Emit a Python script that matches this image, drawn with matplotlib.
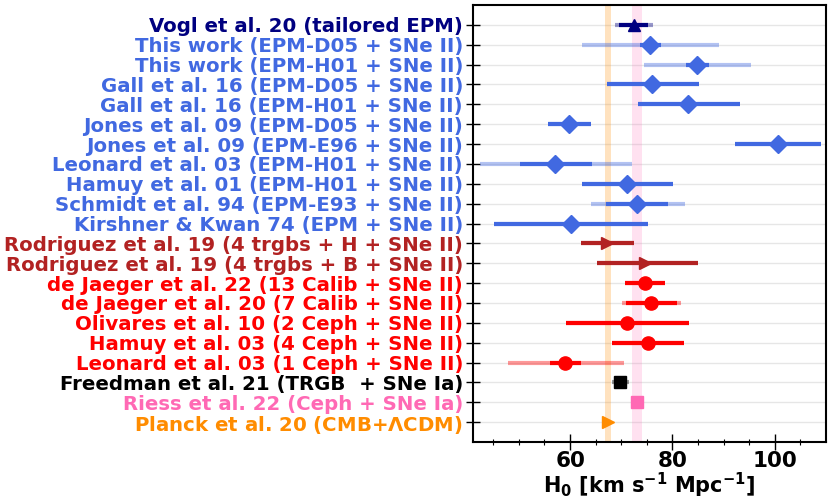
import matplotlib
matplotlib.use("Agg")
import matplotlib.pyplot as plt
import numpy as np

labels = [
    "Vogl et al. 20 (tailored EPM)",
    "This work (EPM-D05 + SNe II)",
    "This work (EPM-H01 + SNe II)",
    "Gall et al. 16 (EPM-D05 + SNe II)",
    "Gall et al. 16 (EPM-H01 + SNe II)",
    "Jones et al. 09 (EPM-D05 + SNe II)",
    "Jones et al. 09 (EPM-E96 + SNe II)",
    "Leonard et al. 03 (EPM-H01 + SNe II)",
    "Hamuy et al. 01 (EPM-H01 + SNe II)",
    "Schmidt et al. 94 (EPM-E93 + SNe II)",
    "Kirshner & Kwan 74 (EPM + SNe II)",
    "Rodriguez et al. 19 (4 trgbs + H + SNe II)",
    "Rodriguez et al. 19 (4 trgbs + B + SNe II)",
    "de Jaeger et al. 22 (13 Calib + SNe II)",
    "de Jaeger et al. 20 (7 Calib + SNe II)",
    "Olivares et al. 10 (2 Ceph + SNe II)",
    "Hamuy et al. 03 (4 Ceph + SNe II)",
    "Leonard et al. 03 (1 Ceph + SNe II)",
    "Freedman et al. 21 (TRGB  + SNe Ia)",
    "Riess et al. 22 (Ceph + SNe Ia)",
    "Planck et al. 20 (CMB+$\\Lambda$CDM)",
]

# H0 value, statistical errors (dark bar), total errors (light bar)
h0 =     [72.4, 75.7, 84.8, 76.1, 83.1, 59.8, 100.6, 57.1, 71.2, 73.1, 60.2,
          67.2, 74.7, 74.6, 75.8, 71.2, 75.2, 59.1, 69.8, 73.04, 67.4]
stat_lo = [2.8, 2.0, 2.2, 8.9, 9.9, 4.2, 8.3, 6.9, 8.9, 6.0, 15.0,
           5.1, 9.5, 3.8, 4.8, 12.0, 7.0, 3.0, 0.0, 0.0, 0.0]
stat_hi = [2.9, 2.1, 2.3, 9.0, 10.0, 4.2, 8.4, 7.1, 8.9, 6.1, 15.0,
           5.3, 10.3, 3.9, 5.1, 12.0, 7.0, 3.1, 0.0, 0.0, 0.0]
tot_lo = [3.7, 13.4, 10.4, 8.9, 9.9, 4.2, 8.3, 14.7, 8.9, 9.1, 15.0,
          5.1, 9.5, 3.8, 5.6, 12.0, 7.0, 11.3, 1.6, 0.0, 0.0]
tot_hi = [3.8, 13.4, 10.5, 9.0, 10.1, 4.2, 8.4, 14.9, 8.9, 9.3, 15.0,
          5.3, 10.3, 3.9, 5.9, 12.0, 7.0, 11.5, 1.8, 0.0, 0.0]

riess = (73.04, 1.04)
planck = (67.4, 0.5)

colors = (["navy"] + ["royalblue"] * 10 + ["firebrick"] * 2 + ["red"] * 5
          + ["black", "hotpink", "darkorange"])
markers = (["^"] + ["D"] * 10 + [">"] * 2 + ["o"] * 5 + ["s", "s", ">"])

plt.rcParams["font.weight"] = "bold"
plt.rcParams["axes.labelweight"] = "bold"

fig = plt.figure(figsize=(8.31, 5.04), dpi=100)
ax = fig.add_axes([0.569, 0.123, 0.425, 0.867])

y = np.arange(len(labels))

ax.axvspan(riess[0] - riess[1], riess[0] + riess[1], color="hotpink", alpha=0.2, lw=0, zorder=1)
ax.axvspan(planck[0] - planck[1], planck[0] + planck[1], color="darkorange", alpha=0.25, lw=0, zorder=1)

for i in range(len(labels)):
    c = colors[i]
    if tot_lo[i] > 0 or tot_hi[i] > 0:
        ax.errorbar(h0[i], y[i], xerr=[[tot_lo[i]], [tot_hi[i]]], fmt="none",
                    ecolor=c, elinewidth=3, alpha=0.4, capsize=0, zorder=2)
    if stat_lo[i] > 0 or stat_hi[i] > 0:
        ax.errorbar(h0[i], y[i], xerr=[[stat_lo[i]], [stat_hi[i]]], fmt="none",
                    ecolor=c, elinewidth=3, capsize=0, zorder=3)
    ms = 9.5 if markers[i] in ("D", "o") else 8.5
    ax.plot(h0[i], y[i], marker=markers[i], color=c, ms=ms, ls="none", zorder=4)

ax.set_yticks(y)
ax.set_yticklabels(labels, fontsize=14.2)
for t, c in zip(ax.get_yticklabels(), colors):
    t.set_color(c)
ax.set_ylim(len(labels), -1)
ax.set_xlim(41, 110)
ax.set_xticks([60, 80, 100])
ax.set_xticks(np.arange(45, 110, 5), minor=True)
ax.tick_params(axis="x", labelsize=15.5, direction="inout", length=11, width=1, pad=1)
ax.tick_params(axis="x", which="minor", direction="inout", length=5, width=0.8)
ax.tick_params(axis="y", direction="inout", length=10, width=1, pad=2)
ax.grid(axis="y", color="#e6e6e6", lw=1, zorder=0)
ax.set_axisbelow(True)
for s in ax.spines.values():
    s.set_linewidth(1.5)
ax.set_xlabel("H$_\\mathbf{0}$ [km s$^{\\mathbf{-1}}$ Mpc$^{\\mathbf{-1}}$]", fontsize=15, labelpad=0)

fig.savefig("out.png", dpi=100)
